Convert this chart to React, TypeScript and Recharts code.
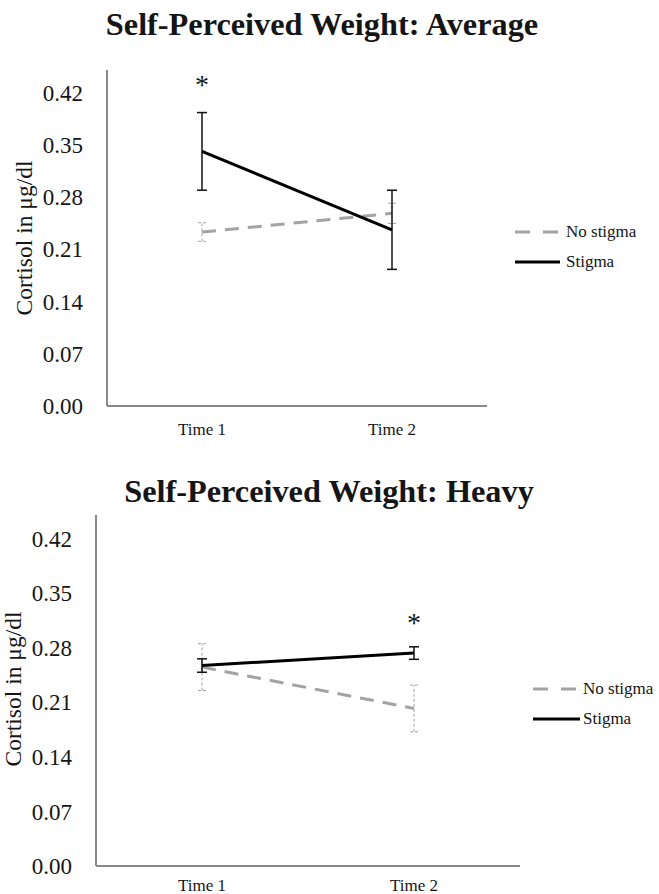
import React from 'react';
import { LineChart, Line, XAxis, YAxis, ErrorBar, Legend, Customized } from 'recharts';

const FONT = '"Liberation Serif", "Times New Roman", serif';

const categories = ['Time 1', 'Time 2'];
const yTicks = [0, 0.07, 0.14, 0.21, 0.28, 0.35, 0.42];
const yDomain = [0, 0.45];

// Panel 1: Self-Perceived Weight: Average
const avgNoStigma = [0.233, 0.258];
const avgNoStigmaErr = [0.0125, 0.0135];
const avgStigma = [0.341, 0.236];
const avgStigmaErr = [0.052, 0.053];
const avgStar = [0.435, null];

// Panel 2: Self-Perceived Weight: Heavy
const heavyNoStigma = [0.255, 0.202];
const heavyNoStigmaErr = [0.03, 0.03];
const heavyStigma = [0.257, 0.273];
const heavyStigmaErr = [0.0086, 0.008];
const heavyStar = [null, 0.317];

const buildData = (ns: number[], nsErr: number[], s: number[], sErr: number[], star: (number | null)[]) =>
  categories.map((c, i) => ({
    time: c,
    noStigma: ns[i],
    noStigmaErr: nsErr[i],
    stigma: s[i],
    stigmaErr: sErr[i],
    star: star[i],
  }));

const avgData = buildData(avgNoStigma, avgNoStigmaErr, avgStigma, avgStigmaErr, avgStar);
const heavyData = buildData(heavyNoStigma, heavyNoStigmaErr, heavyStigma, heavyStigmaErr, heavyStar);

const GRAY = '#a3a3a3';
const AXIS = '#8a8a8a';
const TEXT = '#151515';

const renderStar = (props: any) => {
  const { cx, cy, index, value } = props;
  if (value == null || cx == null || cy == null || isNaN(cy)) return <g key={`star-${index}`} />;
  return (
    <text key={`star-${index}`} x={cx} y={cy + 13} textAnchor="middle" fontSize={28} fontFamily={FONT} fill={TEXT}>
      *
    </text>
  );
};

const makeLegend = (lineLen: number, gap: number) => (props: any) => {
  const items = (props.payload || []).filter((p: any) => p.dataKey === 'noStigma' || p.dataKey === 'stigma');
  return (
    <div style={{ fontFamily: FONT }}>
      {items.map((p: any) => (
        <div key={p.dataKey} style={{ display: 'flex', alignItems: 'center', height: 30 }}>
          <svg width={lineLen} height={6} style={{ display: 'block' }}>
            <line
              x1={0}
              y1={3}
              x2={lineLen}
              y2={3}
              stroke={p.dataKey === 'noStigma' ? GRAY : '#000'}
              strokeWidth={3}
              strokeDasharray={p.dataKey === 'noStigma' ? '15 13' : undefined}
            />
          </svg>
          <span style={{ marginLeft: gap, fontSize: 17, color: TEXT, lineHeight: '20px' }}>{p.value}</span>
        </div>
      ))}
    </div>
  );
};

type PanelProps = {
  data: any[];
  title: string;
  height: number;
  margin: { top: number; right: number; bottom: number; left: number };
  xPad: number;
  titleX: number;
  titleY: number;
  labelX: number;
  labelY: number;
  xTickMargin: number;
  xAxisHeight: number;
  legendLeft: number;
  legendTop: number;
  legendLine: number;
  legendGap: number;
};

const Title = ({ x, y, text }: { x: number; y: number; text: string }) => (
  <text x={x} y={y} textAnchor="middle" fontFamily={FONT} fontWeight="bold" fontSize={32.3} fill={TEXT}>
    {text}
  </text>
);

const YLabel = ({ x, y }: { x: number; y: number }) => (
  <text
    x={x}
    y={y}
    transform={`rotate(-90 ${x} ${y})`}
    textAnchor="middle"
    dominantBaseline="central"
    fontFamily={FONT}
    fontSize={23.5}
    fill={TEXT}
  >
    Cortisol in μg/dl
  </text>
);

const Panel = (p: PanelProps) => (
  <LineChart width={659} height={p.height} data={p.data} margin={p.margin}>
    <Customized component={<Title x={p.titleX} y={p.titleY} text={p.title} />} />
    <Customized component={<YLabel x={p.labelX} y={p.labelY} />} />
    <XAxis
      dataKey="time"
      type="category"
      height={p.xAxisHeight}
      padding={{ left: p.xPad, right: p.xPad }}
      tickLine={false}
      tickSize={6}
      tickMargin={p.xTickMargin}
      axisLine={{ stroke: AXIS, strokeWidth: 2 }}
      tick={{ fontSize: 17, fontFamily: FONT, fill: TEXT }}
    />
    <YAxis
      type="number"
      domain={yDomain}
      ticks={yTicks}
      width={60}
      tickLine={false}
      tickSize={6}
      tickMargin={18}
      allowDataOverflow
      axisLine={{ stroke: AXIS, strokeWidth: 2 }}
      tick={{ fontSize: 23, fontFamily: FONT, fill: TEXT }}
      tickFormatter={(v: number) => v.toFixed(2)}
    />
    <Legend
      layout="vertical"
      align="center"
      verticalAlign="middle"
      content={makeLegend(p.legendLine, p.legendGap)}
      wrapperStyle={{ left: p.legendLeft, top: p.legendTop, width: 150 }}
    />
    <Line
      dataKey="noStigma"
      name="No stigma"
      stroke={GRAY}
      strokeWidth={3}
      strokeDasharray="14 9"
      dot={false}
      activeDot={false}
      isAnimationActive={false}
    >
      <ErrorBar dataKey="noStigmaErr" width={4} stroke={GRAY} strokeWidth={1} strokeDasharray="3 2" direction="y" />
    </Line>
    <Line
      dataKey="stigma"
      name="Stigma"
      stroke="#000"
      strokeWidth={3}
      dot={false}
      activeDot={false}
      isAnimationActive={false}
    >
      <ErrorBar dataKey="stigmaErr" width={5} stroke="#111" strokeWidth={1.5} direction="y" />
    </Line>
    <Line
      dataKey="star"
      name="significance"
      stroke="none"
      legendType="none"
      dot={renderStar}
      activeDot={false}
      isAnimationActive={false}
    />
  </LineChart>
);

export default function App() {
  return (
    <div style={{ position: 'absolute', left: 0, top: 0, width: 659, height: 894, background: '#fff' }}>
      <div style={{ position: 'absolute', left: 0, top: 0 }}>
        <Panel
          data={avgData}
          title="Self-Perceived Weight: Average"
          height={450}
          margin={{ top: 70, right: 172, bottom: 14, left: 47 }}
          xPad={95}
          titleX={322}
          titleY={35}
          labelX={24}
          labelY={238}
          xTickMargin={11}
          xAxisHeight={30}
          legendLeft={515}
          legendTop={217}
          legendLine={45}
          legendGap={6}
        />
      </div>
      <div style={{ position: 'absolute', left: 0, top: 450 }}>
        <Panel
          data={heavyData}
          title="Self-Perceived Weight: Heavy"
          height={444}
          margin={{ top: 65, right: 139, bottom: 8, left: 36 }}
          xPad={106}
          titleX={329}
          titleY={52}
          labelX={13}
          labelY={239}
          xTickMargin={7}
          xAxisHeight={20}
          legendLeft={533}
          legendTop={224}
          legendLine={47}
          legendGap={3}
        />
      </div>
    </div>
  );
}
